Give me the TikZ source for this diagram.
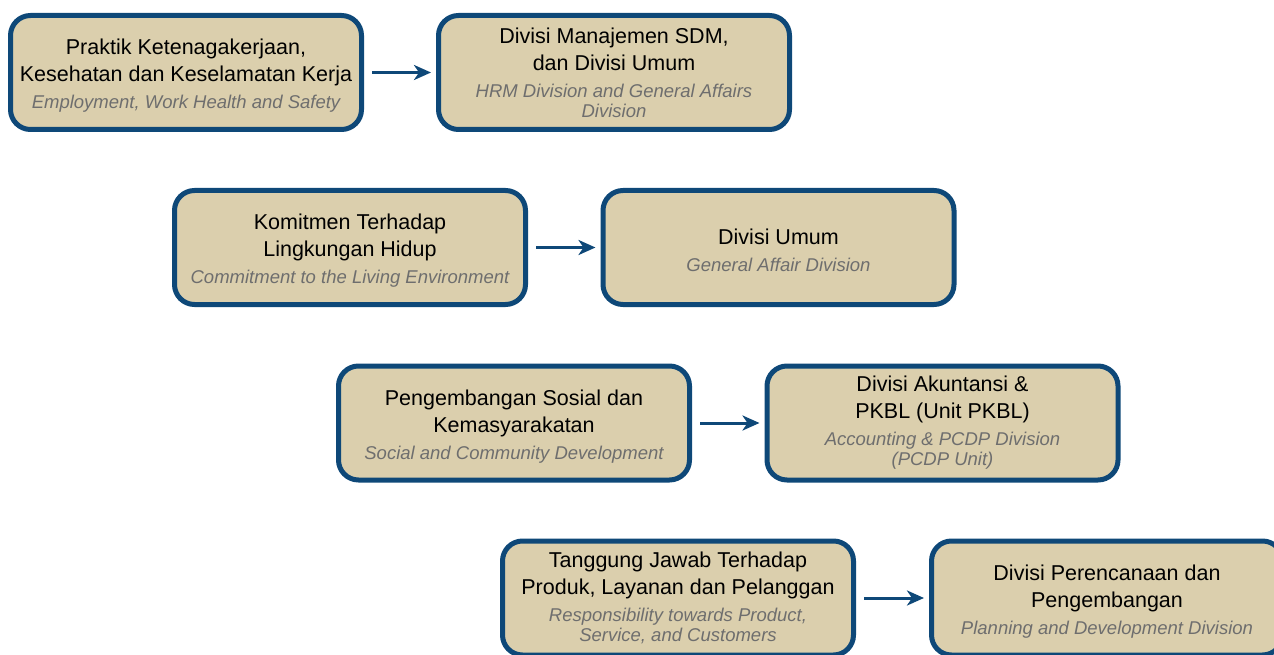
\documentclass[tikz,border=0pt]{standalone}
\usepackage{fontspec}
\setmainfont{Liberation Sans}
\usetikzlibrary{arrows.meta}
\definecolor{boxfill}{RGB}{219,207,173}
\definecolor{boxline}{RGB}{14,72,120}
\definecolor{subgray}{RGB}{110,110,110}
% English subtitle lines
\newcommand{\en}[1]{{\color{subgray}\itshape\fontsize{18.5}{20}\selectfont #1}}
% taller first line, lowers the text block a little inside its box
\newcommand{\topstrut}{\rule{0pt}{22pt}}
\tikzset{
  topic/.style={draw=boxline, fill=boxfill, line width=5pt, rounded corners=20pt,
    minimum width=351pt, minimum height=114pt, align=center, inner sep=0pt,
    font=\fontsize{21.5}{27}\selectfont},
  flow/.style={draw=boxline, line width=3pt,
    -{Stealth[length=17pt,width=15pt,inset=5pt]}, shorten <=8pt, shorten >=5pt}
}
\begin{document}
\begin{tikzpicture}[x=1pt,y=-1pt]
\useasboundingbox (0,0) rectangle (1274,655);
\clip (0,0) rectangle (1274,655);
% row 1
\node[topic] (p1) at (186,72.5) {\topstrut Praktik Ketenagakerjaan,\\Kesehatan dan Keselamatan Kerja\\\en{Employment, Work Health and Safety}};
\node[topic] (d1) at (614,72.5) {Divisi Manajemen SDM,\\dan Divisi Umum\\\en{HRM Division and General Affairs}\\[-7pt]\en{Division}};
% row 2
\node[topic] (p2) at (350,247.5) {\topstrut Komitmen Terhadap\\Lingkungan Hidup\\\en{Commitment to the Living Environment}};
\node[topic] (d2) at (778.5,247.5) {\topstrut Divisi Umum\\\en{General Affair Division}};
% row 3
\node[topic] (p3) at (514,423) {\topstrut Pengembangan Sosial dan\\Kemasyarakatan\\\en{Social and Community Development}};
\node[topic] (d3) at (942.5,423) {Divisi Akuntansi \&\\PKBL (Unit PKBL)\\\en{Accounting \& PCDP Division}\\[-7pt]\en{(PCDP Unit)}};
% row 4
\node[topic] (p4) at (678,598) {Tanggung Jawab Terhadap\\Produk, Layanan dan Pelanggan\\\en{Responsibility towards Product,}\\[-7pt]\en{Service, and Customers}};
\node[topic] (d4) at (1107,598) {\topstrut Divisi Perencanaan dan\\Pengembangan\\\en{Planning and Development Division}};
% connectors
\draw[flow] (p1) -- (d1);
\draw[flow] (p2) -- (d2);
\draw[flow] (p3) -- (d3);
\draw[flow] (p4) -- (d4);
\end{tikzpicture}
\end{document}
